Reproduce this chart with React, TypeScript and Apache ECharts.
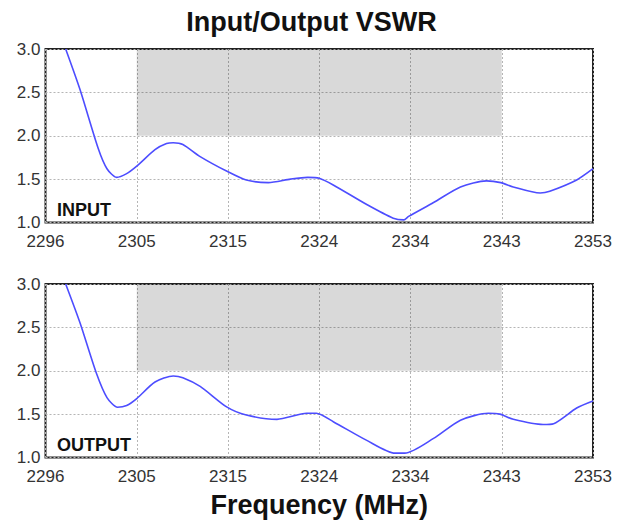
import React, { useEffect, useRef } from "react";
import * as echarts from "echarts";

const TITLE = "Input/Output VSWR";
const X_NAME = "Frequency (MHz)";
const X_MIN = 2296;
const X_MAX = 2353;
const X_STEP = 9.5;
const X_TICK_LABELS = ["2296", "2305", "2315", "2324", "2334", "2343", "2353"];
const Y_MIN = 1.0;
const Y_MAX = 3.0;
const Y_STEP = 0.5;
const BAND = { from: 2305.5, to: 2343.5, low: 2.0, high: 3.0 };

const FREQ_IN = [2298.1, 2299.6, 2301.5, 2302.4, 2303.4, 2304.4, 2305.5, 2307.4, 2308.6, 2309.3, 2310.3, 2312.1, 2314.9, 2316.9, 2319.2, 2321.5, 2323.3, 2324.5, 2326.0, 2329.4, 2332.2, 2333.3, 2333.8, 2336.4, 2339.2, 2341.9, 2343.4, 2344.7, 2347.5, 2348.5, 2351.3, 2353];
const VSWR_IN = [3.0, 2.53, 1.85, 1.62, 1.52, 1.56, 1.65, 1.84, 1.91, 1.92, 1.90, 1.76, 1.59, 1.49, 1.46, 1.50, 1.52, 1.51, 1.43, 1.21, 1.05, 1.03, 1.07, 1.23, 1.41, 1.48, 1.46, 1.41, 1.34, 1.36, 1.49, 1.62];

const FREQ_OUT = [2298.1, 2299.6, 2301.3, 2302.4, 2303.5, 2304.45, 2305.5, 2307.4, 2309.3, 2310.3, 2312.1, 2314.9, 2316.9, 2320.1, 2323.2, 2324.2, 2326.0, 2329.4, 2332.4, 2333.4, 2336.4, 2339.2, 2342.1, 2343.3, 2344.7, 2347.8, 2348.9, 2351.3, 2353];
const VSWR_OUT = [3.0, 2.55, 1.97, 1.69, 1.58, 1.60, 1.68, 1.87, 1.94, 1.92, 1.82, 1.58, 1.49, 1.44, 1.51, 1.51, 1.41, 1.20, 1.05, 1.05, 1.22, 1.43, 1.51, 1.50, 1.44, 1.38, 1.39, 1.57, 1.65];

const PANEL_LABELS = ["INPUT", "OUTPUT"];

const FONT = "'Liberation Sans', Arial, Helvetica, sans-serif";

export default function App() {
  const ref = useRef<HTMLDivElement>(null);
  useEffect(() => {
    if (!ref.current) return;
    const chart = echarts.init(ref.current, undefined, { renderer: "svg" });
    const toPts = (fs: number[], vs: number[]) => fs.map((f, i) => [f - X_MIN, vs[i]]);
    const grids = [
      { left: 45.5, right: 30, top: 49, height: 173.5 },
      { left: 45.5, right: 30, top: 284, height: 173.5 },
    ];
    const xAxes = grids.map((_, i) => ({
      type: "value",
      gridIndex: i,
      min: 0,
      max: X_MAX - X_MIN,
      interval: X_STEP,
      axisLine: { show: false },
      axisTick: { show: false },
      axisLabel: {
        color: "#333",
        fontSize: 17,
        lineHeight: 17,
        fontFamily: FONT,
        margin: 10,
        showMinLabel: true,
        showMaxLabel: true,
        formatter: (_v: number, idx: number) => X_TICK_LABELS[idx] ?? "",
      },
      splitLine: { show: true, lineStyle: { color: "#b5b5b5", type: [2, 2], width: 1 } },
      name: i === 1 ? X_NAME : "",
      nameLocation: "middle",
      nameGap: 34,
      nameTextStyle: { color: "#111", fontSize: 27, fontWeight: "bold", fontFamily: FONT, verticalAlign: "top" },
    }));
    const yAxes = grids.map((_, i) => ({
      type: "value",
      gridIndex: i,
      min: Y_MIN,
      max: Y_MAX,
      interval: Y_STEP,
      axisLine: { show: false },
      axisTick: { show: false },
      axisLabel: {
        color: "#333",
        fontSize: 17,
        lineHeight: 17,
        fontFamily: FONT,
        margin: 5,
        formatter: (v: number) => v.toFixed(1),
      },
      splitLine: { show: true, lineStyle: { color: "#b5b5b5", type: [2, 2], width: 1 } },
    }));
    const datasets = [toPts(FREQ_IN, VSWR_IN), toPts(FREQ_OUT, VSWR_OUT)];
    const series = datasets.map((d, i) => ({
      type: "line",
      xAxisIndex: i,
      yAxisIndex: i,
      data: d,
      showSymbol: false,
      smooth: 0.25,
      clip: true,
      lineStyle: { color: "#4d4dff", width: 1.6 },
      markArea: {
        silent: true,
        itemStyle: { color: "rgba(0,0,0,0.15)" },
        data: [[{ coord: [BAND.from - X_MIN, BAND.high] }, { coord: [BAND.to - X_MIN, BAND.low] }]],
      },
    }));
    chart.setOption({
      animation: false,
      backgroundColor: "#fff",
      title: {
        text: TITLE,
        left: "center",
        top: 3,
        textStyle: { color: "#111", fontSize: 27, fontWeight: "bold", fontFamily: FONT },
      },
      grid: grids.map((g) => ({ ...g, show: true, borderColor: "#222", borderWidth: 2, backgroundColor: "transparent" })),
      xAxis: xAxes,
      yAxis: yAxes,
      series,
      graphic: PANEL_LABELS.map((t, i) => ({
        type: "text",
        left: 57,
        top: i === 0 ? 201 : 436,
        style: { text: t, fill: "#111", font: `bold 18px ${FONT}` },
        z: 10,
      })),
    });
    return () => chart.dispose();
  }, []);
  return <div ref={ref} style={{ position: "fixed", left: 0, top: 0, width: 623, height: 523 }} />;
}
